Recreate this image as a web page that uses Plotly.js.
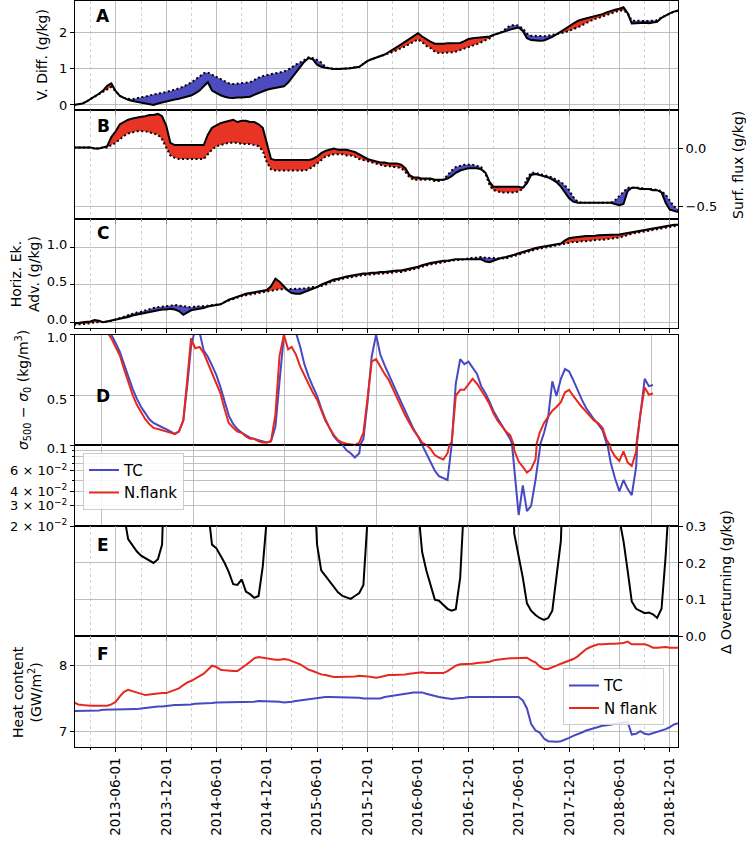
<!DOCTYPE html>
<html><head><meta charset="utf-8">
<script src="https://cdn.plot.ly/plotly-3.0.1.min.js"></script>
<style>html,body{margin:0;padding:0;background:#fff}#chart{width:746px;height:845px}</style>
</head><body><div id="chart"></div>
<script>
// time grid: 1st and 16th of each month, 2013-01-01 .. 2019-01-01
const dates = [];
for (let y = 2013; y <= 2018; y++) for (let m = 1; m <= 12; m++) {
  const mm = String(m).padStart(2, '0');
  dates.push(y + '-' + mm + '-01', y + '-' + mm + '-16');
}
dates.push('2019-01-01');

// Panel A: vertical diffusion (solid) vs reference (dotted)
const A_solid = [0.00,0.01,0.04,0.10,0.16,0.22,0.31,0.40,0.53,0.60,
 0.38,0.25,0.19,0.14,0.11,0.09,0.07,0.05,0.03,0.00,
 0.04,0.07,0.10,0.13,0.15,0.17,0.20,0.23,0.26,0.32,
 0.40,0.52,0.63,0.40,0.32,0.27,0.23,0.20,0.19,0.21,
 0.21,0.22,0.23,0.28,0.33,0.38,0.42,0.45,0.47,0.49,
 0.52,0.62,0.75,0.92,1.08,1.20,1.30,1.27,1.12,1.06,
 1.03,1.01,1.00,1.00,1.00,1.01,1.02,1.04,1.06,1.14,
 1.22,1.27,1.31,1.35,1.40,1.47,1.53,1.60,1.68,1.76,
 1.84,1.91,1.99,1.90,1.82,1.76,1.70,1.69,1.70,1.71,
 1.71,1.71,1.72,1.77,1.83,1.85,1.86,1.87,1.88,1.90,
 1.94,1.98,2.01,2.05,2.09,2.12,2.15,2.05,1.85,1.80,
 1.78,1.78,1.79,1.83,1.89,1.96,2.03,2.11,2.18,2.26,
 2.33,2.37,2.40,2.43,2.46,2.48,2.52,2.57,2.61,2.64,
 2.67,2.71,2.55,2.26,2.27,2.28,2.28,2.27,2.30,2.31,
 2.42,2.49,2.54,2.59,2.62];
const A_dotted = [0.00,0.01,0.04,0.10,0.16,0.22,0.31,0.38,0.45,0.50,
 0.38,0.25,0.20,0.17,0.16,0.18,0.20,0.23,0.26,0.29,
 0.31,0.34,0.36,0.39,0.42,0.46,0.51,0.56,0.62,0.70,
 0.80,0.88,0.90,0.84,0.77,0.70,0.65,0.60,0.58,0.59,
 0.60,0.61,0.63,0.69,0.76,0.80,0.83,0.86,0.88,0.90,
 0.93,0.98,1.05,1.12,1.18,1.26,1.32,1.30,1.25,1.18,
 1.06,1.01,1.00,1.00,1.00,1.01,1.02,1.04,1.06,1.14,
 1.22,1.27,1.31,1.35,1.38,1.43,1.47,1.52,1.57,1.63,
 1.69,1.75,1.82,1.74,1.64,1.58,1.48,1.44,1.44,1.45,
 1.46,1.48,1.52,1.56,1.60,1.64,1.69,1.74,1.79,1.85,
 1.93,1.98,2.03,2.12,2.20,2.22,2.20,2.12,1.98,1.92,
 1.91,1.91,1.91,1.92,1.94,1.96,1.98,2.02,2.06,2.10,
 2.15,2.21,2.28,2.33,2.38,2.41,2.45,2.49,2.53,2.57,
 2.62,2.62,2.55,2.34,2.33,2.33,2.33,2.33,2.34,2.35,
 2.43,2.49,2.54,2.59,2.62];

// Panel B: surface flux
const B_solid = [0.01,0.01,0.01,0.01,0.01,0.00,0.00,0.01,0.02,0.10,
 0.15,0.21,0.23,0.25,0.26,0.27,0.275,0.28,0.29,0.29,
 0.30,0.28,0.20,0.05,0.03,0.03,0.03,0.03,0.03,0.03,
 0.03,0.03,0.12,0.18,0.20,0.22,0.23,0.24,0.25,0.23,
 0.24,0.24,0.23,0.23,0.21,0.18,0.05,-0.09,-0.10,-0.10,
 -0.10,-0.10,-0.10,-0.10,-0.10,-0.10,-0.10,-0.09,-0.07,-0.04,
 -0.02,-0.01,0.00,-0.01,-0.01,-0.01,-0.02,-0.03,-0.05,-0.07,
 -0.09,-0.10,-0.11,-0.12,-0.12,-0.13,-0.13,-0.13,-0.14,-0.17,
 -0.23,-0.25,-0.25,-0.26,-0.26,-0.26,-0.27,-0.27,-0.27,-0.26,
 -0.24,-0.21,-0.19,-0.18,-0.17,-0.17,-0.17,-0.18,-0.21,-0.29,
 -0.33,-0.33,-0.33,-0.33,-0.33,-0.33,-0.33,-0.34,-0.30,-0.23,
 -0.22,-0.23,-0.24,-0.25,-0.27,-0.29,-0.33,-0.38,-0.43,-0.46,
 -0.47,-0.47,-0.47,-0.47,-0.47,-0.47,-0.47,-0.47,-0.47,-0.48,
 -0.49,-0.48,-0.37,-0.34,-0.34,-0.35,-0.35,-0.35,-0.36,-0.36,
 -0.38,-0.47,-0.53,-0.54,-0.55];
const B_dotted = [0.01,0.01,0.01,0.01,0.01,0.00,0.00,0.01,0.01,0.03,
 0.05,0.08,0.11,0.13,0.14,0.15,0.15,0.15,0.14,0.13,
 0.12,0.08,0.01,-0.06,-0.08,-0.09,-0.09,-0.09,-0.09,-0.09,
 -0.09,-0.09,-0.05,-0.01,0.02,0.03,0.04,0.05,0.05,0.05,
 0.04,0.04,0.04,0.03,0.02,-0.02,-0.12,-0.18,-0.19,-0.19,
 -0.19,-0.19,-0.19,-0.19,-0.19,-0.19,-0.18,-0.16,-0.13,-0.10,
 -0.07,-0.06,-0.05,-0.05,-0.05,-0.06,-0.06,-0.07,-0.09,-0.10,
 -0.11,-0.12,-0.13,-0.14,-0.15,-0.15,-0.16,-0.16,-0.17,-0.20,
 -0.25,-0.27,-0.27,-0.27,-0.27,-0.27,-0.28,-0.28,-0.27,-0.23,
 -0.19,-0.16,-0.15,-0.14,-0.14,-0.14,-0.15,-0.16,-0.22,-0.32,
 -0.36,-0.37,-0.38,-0.38,-0.38,-0.38,-0.37,-0.35,-0.26,-0.21,
 -0.21,-0.22,-0.23,-0.24,-0.25,-0.27,-0.29,-0.32,-0.36,-0.42,
 -0.46,-0.47,-0.47,-0.47,-0.47,-0.47,-0.47,-0.47,-0.47,-0.45,
 -0.41,-0.37,-0.34,-0.34,-0.34,-0.34,-0.35,-0.35,-0.35,-0.36,
 -0.37,-0.40,-0.45,-0.50,-0.53];

// Panel C: horizontal Ekman advection
const C_solid = [-0.01,-0.01,0.00,0.00,0.01,0.03,0.02,0.00,0.01,0.02,
 0.03,0.04,0.05,0.07,0.09,0.10,0.11,0.12,0.14,0.15,
 0.16,0.17,0.17,0.18,0.17,0.15,0.10,0.13,0.16,0.17,
 0.18,0.19,0.21,0.22,0.23,0.24,0.27,0.30,0.32,0.34,
 0.36,0.38,0.39,0.40,0.41,0.42,0.43,0.48,0.58,0.54,
 0.48,0.42,0.39,0.38,0.38,0.40,0.42,0.45,0.47,0.50,
 0.52,0.55,0.57,0.58,0.60,0.61,0.62,0.63,0.64,0.65,
 0.65,0.66,0.66,0.67,0.67,0.68,0.68,0.69,0.69,0.70,
 0.71,0.72,0.74,0.76,0.78,0.79,0.80,0.81,0.82,0.82,
 0.83,0.84,0.84,0.84,0.85,0.85,0.85,0.84,0.81,0.80,
 0.82,0.84,0.86,0.87,0.89,0.90,0.92,0.94,0.96,0.97,
 0.99,1.00,1.01,1.02,1.03,1.04,1.05,1.09,1.12,1.13,
 1.14,1.14,1.15,1.15,1.15,1.16,1.16,1.16,1.17,1.17,
 1.17,1.18,1.19,1.20,1.21,1.22,1.23,1.24,1.25,1.26,
 1.27,1.28,1.29,1.30,1.30];
const C_dotted = [-0.03,-0.03,-0.02,-0.02,-0.01,0.00,0.00,0.00,0.01,0.02,
 0.04,0.06,0.08,0.10,0.12,0.13,0.14,0.16,0.17,0.19,
 0.20,0.21,0.22,0.22,0.23,0.22,0.21,0.20,0.20,0.21,
 0.21,0.22,0.22,0.23,0.23,0.24,0.27,0.29,0.31,0.33,
 0.35,0.36,0.37,0.38,0.39,0.40,0.41,0.42,0.43,0.44,
 0.44,0.44,0.44,0.44,0.44,0.45,0.46,0.47,0.47,0.48,
 0.50,0.53,0.55,0.56,0.58,0.59,0.60,0.61,0.62,0.63,
 0.63,0.64,0.64,0.65,0.65,0.66,0.66,0.67,0.67,0.68,
 0.69,0.70,0.72,0.74,0.76,0.77,0.78,0.79,0.80,0.81,
 0.82,0.83,0.83,0.84,0.85,0.86,0.86,0.87,0.86,0.86,
 0.85,0.85,0.85,0.85,0.87,0.88,0.90,0.92,0.94,0.95,
 0.97,0.98,0.99,1.00,1.01,1.02,1.03,1.04,1.06,1.07,
 1.07,1.08,1.08,1.09,1.09,1.10,1.10,1.11,1.11,1.12,
 1.13,1.14,1.16,1.18,1.19,1.20,1.21,1.22,1.23,1.24,
 1.25,1.26,1.27,1.28,1.29];

// Panel D: sigma500 - sigma0
const D_TC = [null,null,null,null,null,null,null,1.1,1.05,1.0,
 0.93,0.86,0.76,0.66,0.56,0.48,0.41,0.36,0.31,0.28,
 0.26,0.245,0.23,0.21,0.19,0.21,0.30,0.60,0.90,1.05,
 1.02,0.87,0.82,0.75,0.67,0.57,0.45,0.34,0.27,0.23,
 0.20,0.18,0.16,0.15,0.14,0.13,0.12,0.13,0.25,0.62,
 1.0,1.1,1.1,1.02,0.90,0.76,0.66,0.58,0.50,0.40,
 0.31,0.24,0.17,0.13,0.10,0.09,0.085,0.078,0.085,0.15,
 0.45,0.82,1.0,0.84,0.75,0.67,0.60,0.53,0.45,0.38,
 0.30,0.23,0.17,0.10,0.085,0.071,0.060,0.054,0.052,0.050,
 0.10,0.60,0.80,0.76,0.78,0.73,0.68,0.58,0.52,0.45,
 0.38,0.32,0.26,0.20,0.15,0.06,0.025,0.045,0.027,0.030,
 0.050,0.09,0.20,0.33,0.62,0.50,0.64,0.72,0.70,0.63,
 0.54,0.47,0.40,0.35,0.31,0.27,0.22,0.11,0.070,0.052,
 0.040,0.050,0.042,0.037,0.065,0.35,0.64,0.58,0.59,null,
 null,null,null,null,null];
const D_NF = [null,null,null,null,null,null,null,1.1,1.02,0.97,
 0.90,0.83,0.72,0.62,0.51,0.43,0.37,0.31,0.27,0.24,
 0.23,0.22,0.21,0.20,0.19,0.21,0.30,0.65,0.97,0.89,
 0.90,0.85,0.77,0.69,0.61,0.52,0.39,0.28,0.24,0.21,
 0.20,0.17,0.15,0.15,0.13,0.12,0.12,0.13,0.35,0.83,
 1.0,0.88,0.90,0.84,0.74,0.67,0.59,0.53,0.47,0.38,
 0.30,0.24,0.18,0.14,0.12,0.11,0.105,0.10,0.12,0.20,
 0.48,0.78,0.80,0.74,0.68,0.63,0.56,0.48,0.41,0.34,
 0.28,0.22,0.17,0.12,0.10,0.093,0.082,0.078,0.075,0.085,
 0.12,0.50,0.55,0.55,0.60,0.64,0.60,0.55,0.49,0.43,
 0.36,0.30,0.25,0.21,0.18,0.09,0.072,0.065,0.058,0.062,
 0.075,0.20,0.28,0.33,0.38,0.41,0.45,0.53,0.55,0.50,
 0.45,0.41,0.37,0.33,0.30,0.28,0.24,0.14,0.092,0.080,
 0.073,0.088,0.071,0.066,0.088,0.35,0.57,0.51,0.52,null,
 null,null,null,null,null];

// Panel E: delta overturning (values above 0.3 leave the axis)
const E_over = [0.6,0.6,0.6,0.6,0.6,0.6,0.6,0.6,0.6,0.6,
 0.6,0.6,0.33,0.265,0.248,0.232,0.22,0.213,0.206,0.20,
 0.21,0.25,0.6,0.6,0.6,0.6,0.6,0.6,0.6,0.6,
 0.6,0.6,0.35,0.25,0.24,0.22,0.20,0.175,0.142,0.14,
 0.155,0.122,0.115,0.105,0.11,0.19,0.35,0.6,0.6,0.6,
 0.6,0.6,0.6,0.6,0.6,0.6,0.6,0.5,0.25,0.18,
 0.165,0.15,0.135,0.12,0.11,0.105,0.102,0.11,0.118,0.14,
 0.32,0.6,0.6,0.6,0.6,0.6,0.6,0.6,0.6,0.6,
 0.6,0.6,0.35,0.23,0.18,0.14,0.10,0.097,0.085,0.075,
 0.07,0.074,0.16,0.6,0.6,0.6,0.6,0.6,0.6,0.6,
 0.6,0.6,0.6,0.6,0.6,0.28,0.22,0.16,0.09,0.07,
 0.058,0.05,0.045,0.05,0.07,0.16,0.26,0.6,0.6,0.6,
 0.6,0.6,0.6,0.6,0.6,0.6,0.6,0.6,0.6,0.6,
 0.32,0.26,0.18,0.095,0.075,0.07,0.063,0.065,0.06,0.05,
 0.075,0.22,0.6,0.6,0.6];

// Panel F: heat content
const F_TC = [7.31,7.31,7.31,7.32,7.32,7.32,7.32,7.33,7.33,7.33,
 7.33,7.33,7.33,7.34,7.34,7.34,7.35,7.36,7.36,7.37,
 7.38,7.38,7.39,7.39,7.40,7.40,7.40,7.41,7.41,7.42,
 7.42,7.42,7.43,7.43,7.44,7.44,7.44,7.44,7.44,7.45,
 7.45,7.45,7.45,7.45,7.46,7.46,7.46,7.46,7.46,7.45,
 7.44,7.44,7.45,7.46,7.47,7.48,7.49,7.49,7.50,7.51,
 7.52,7.52,7.52,7.52,7.52,7.52,7.51,7.51,7.51,7.50,
 7.50,7.50,7.49,7.50,7.52,7.53,7.55,7.56,7.57,7.57,
 7.58,7.59,7.59,7.59,7.57,7.55,7.54,7.52,7.51,7.50,
 7.49,7.50,7.50,7.51,7.52,7.52,7.53,7.53,7.53,7.53,
 7.53,7.53,7.53,7.53,7.53,7.52,7.52,7.47,7.35,7.12,
 7.02,6.99,6.90,6.86,6.85,6.85,6.86,6.88,6.91,6.94,
 6.96,6.99,7.02,7.04,7.06,7.07,7.09,7.10,7.11,7.12,
 7.13,7.14,7.15,6.96,6.97,7.01,6.97,6.96,6.98,7.00,
 7.01,7.04,7.07,7.11,7.13];
const F_NF = [7.44,7.41,7.40,7.39,7.39,7.39,7.39,7.38,7.39,7.41,
 7.45,7.53,7.60,7.63,7.61,7.58,7.56,7.55,7.56,7.57,
 7.57,7.58,7.58,7.60,7.62,7.65,7.70,7.74,7.76,7.80,
 7.84,7.87,7.93,7.99,7.97,7.93,7.92,7.91,7.91,7.91,
 7.95,8.00,8.05,8.10,8.12,8.11,8.09,8.08,8.08,8.08,
 8.09,8.08,8.06,8.04,8.01,7.97,7.93,7.91,7.88,7.86,
 7.85,7.83,7.82,7.82,7.82,7.83,7.83,7.83,7.84,7.84,
 7.83,7.82,7.81,7.82,7.84,7.85,7.85,7.85,7.86,7.86,
 7.87,7.88,7.89,7.89,7.88,7.88,7.88,7.88,7.88,7.91,
 7.95,7.99,8.01,8.01,8.02,8.02,8.03,8.03,8.04,8.05,
 8.07,8.08,8.09,8.10,8.10,8.10,8.10,8.10,8.11,8.07,
 8.04,7.98,7.94,7.94,7.96,7.99,8.02,8.04,8.06,8.09,
 8.13,8.18,8.24,8.27,8.29,8.31,8.31,8.32,8.32,8.32,
 8.32,8.33,8.35,8.31,8.31,8.31,8.31,8.29,8.26,8.26,
 8.27,8.27,8.26,8.26,8.26];

const panelLetters = ['A','B','C','D','E','F'];
const dLabelTicks = [0.02,0.03,0.04,0.06];
const dLabelText = ['2 × 10<sup>−2</sup>','3 × 10<sup>−2</sup>','4 × 10<sup>−2</sup>','6 × 10<sup>−2</sup>'];
const dMinorTicks = [0.05,0.07,0.08,0.09];
const dateTickFormat = '%Y-%m-%d';

const RED = 'rgb(230,40,30)', BLUE = 'rgb(72,72,195)';
const RED_FILL = 'rgb(232,52,36)', BLUE_FILL = 'rgb(76,76,192)';
const FONT = 'DejaVu Sans';
const TICK_SIZE = 13;

function diffPanel(xa, ya, solid, dotted) {
  const hi = solid.map((v, i) => Math.max(v, dotted[i]));
  const lo = solid.map((v, i) => Math.min(v, dotted[i]));
  const base = {x: dates, xaxis: xa, yaxis: ya, mode: 'lines', showlegend: false, hoverinfo: 'skip'};
  return [
    Object.assign({}, base, {y: dotted, line: {width: 0}}),
    Object.assign({}, base, {y: hi, line: {width: 0}, fill: 'tonexty', fillcolor: RED_FILL}),
    Object.assign({}, base, {y: dotted, line: {width: 0}}),
    Object.assign({}, base, {y: lo, line: {width: 0}, fill: 'tonexty', fillcolor: BLUE_FILL}),
    Object.assign({}, base, {y: dotted, line: {color: 'black', width: 2, dash: '2px,2.5px'}}),
    Object.assign({}, base, {y: solid, line: {color: 'black', width: 2}})
  ];
}

const traces = [].concat(
  diffPanel('x', 'y', A_solid, A_dotted),
  diffPanel('x2', 'y2', B_solid, B_dotted),
  diffPanel('x3', 'y3', C_solid, C_dotted),
  [
    {x: dates, y: D_TC, xaxis: 'x4', yaxis: 'y4', mode: 'lines', name: 'TC', line: {color: BLUE, width: 2}, legend: 'legend'},
    {x: dates, y: D_NF, xaxis: 'x4', yaxis: 'y4', mode: 'lines', name: 'N.flank', line: {color: RED, width: 2}, legend: 'legend'},
    {x: dates, y: D_TC, xaxis: 'x5', yaxis: 'y5', mode: 'lines', showlegend: false, line: {color: BLUE, width: 2}},
    {x: dates, y: D_NF, xaxis: 'x5', yaxis: 'y5', mode: 'lines', showlegend: false, line: {color: RED, width: 2}},
    {x: dates, y: E_over, xaxis: 'x6', yaxis: 'y6', mode: 'lines', showlegend: false, line: {color: 'black', width: 2}},
    {x: dates, y: F_TC, xaxis: 'x7', yaxis: 'y7', mode: 'lines', name: 'TC', line: {color: BLUE, width: 2}, legend: 'legend2'},
    {x: dates, y: F_NF, xaxis: 'x7', yaxis: 'y7', mode: 'lines', name: 'N flank', line: {color: RED, width: 2}, legend: 'legend2'}
  ]
);

const xRange = ['2013-01-04 07:00', '2018-12-30 17:00'];
const GRID = '#b0b0b0';
function xStd(anchor, labels) {
  return {type: 'date', range: xRange, anchor: anchor, showline: true, mirror: true, linecolor: 'black', linewidth: 1,
    zeroline: false, tick0: '2013-06-01', dtick: 'M6', showgrid: true, gridcolor: GRID, gridwidth: 0.8,
    ticks: 'outside', ticklen: 4, tickcolor: 'black', showticklabels: labels,
    tickformat: dateTickFormat, tickangle: -90, tickfont: {family: FONT, size: 13.5, color: 'black'},
    minor: {tick0: '2013-03-01', dtick: 'M3', showgrid: true, gridcolor: '#c8c8c8', griddash: 'dot', gridwidth: 0.8,
      ticks: 'outside', ticklen: 2, tickcolor: 'black'}};
}
function xD(anchor) {
  return {type: 'date', range: xRange, anchor: anchor, showline: true, mirror: true, linecolor: 'black', linewidth: 1,
    zeroline: false, tick0: '2013-04-11', dtick: 332 * 86400000, showgrid: true, gridcolor: GRID, gridwidth: 0.8,
    ticks: '', showticklabels: false};
}
function yStd(anchor, domain, range, tickvals, fmt, side) {
  return {anchor: anchor, domain: domain, range: range, tickvals: tickvals, tickformat: fmt, side: side || 'left',
    showline: true, mirror: true, linecolor: 'black', linewidth: 1, zeroline: false, showgrid: true,
    gridcolor: GRID, gridwidth: 0.8, ticks: 'outside', ticklen: 4, tickcolor: 'black',
    tickfont: {family: FONT, size: TICK_SIZE, color: 'black'}};
}

const H = 746;
const py = p => 1 - (p - 1) / H;         // pixel row -> paper y
const px = p => (p - 75) / 603;          // pixel column -> paper x

const yLog = yStd('x5', [py(526.3), py(445)], [Math.log10(0.02), -1], dLabelTicks, '');
yLog.type = 'log';
yLog.ticktext = dLabelText;
delete yLog.tickformat;
yLog.minor = {tickmode: 'array', tickvals: dMinorTicks, showgrid: true, gridcolor: GRID, gridwidth: 0.8,
  ticks: 'outside', ticklen: 2, tickcolor: 'black'};

const yC = yStd('x3', [py(328.3), py(219)], [-0.08, 1.376], [0, 0.5, 1], '.1f');
yC.ticklabelshift = -3;
const yDup = yStd('x4', [py(445), py(334.7)], [0.1, 1.0], [0.1, 0.5, 1.0], '.1f');
yDup.ticklabelshift = 3;

const layout = {
  width: 746, height: 845,
  margin: {l: 75, r: 68, t: 1, b: 98},
  paper_bgcolor: 'white', plot_bgcolor: 'white',
  font: {family: FONT, size: 14, color: 'black'},
  showlegend: true,
  xaxis: xStd('y', false), xaxis2: xStd('y2', false), xaxis3: xStd('y3', false),
  xaxis4: xD('y4'), xaxis5: xD('y5'),
  xaxis6: xStd('y6', false), xaxis7: xStd('y7', true),
  yaxis: yStd('x', [py(110), 1], [-0.14, 2.885], [0, 1, 2], 'd'),
  yaxis2: yStd('x2', [py(219), py(110)], [-0.61, 0.334], [-0.5, 0], '.1f', 'right'),
  yaxis3: yC,
  yaxis4: yDup,
  yaxis5: yLog,
  yaxis6: yStd('x6', [py(636.3), py(526.3)], [0, 0.3], [0, 0.1, 0.2, 0.3], '.1f', 'right'),
  yaxis7: yStd('x7', [0, py(636.3)], [6.773, 8.43], [7, 8], 'd'),
  legend: {x: px(83), y: py(452.7), xanchor: 'left', yanchor: 'top', traceorder: 'normal', bgcolor: 'rgba(255,255,255,0.85)',
    bordercolor: '#cccccc', borderwidth: 1, font: {family: FONT, size: 15, color: 'black'}},
  legend2: {x: px(563), y: py(668.3), xanchor: 'left', yanchor: 'top', traceorder: 'normal', bgcolor: 'rgba(255,255,255,0.85)',
    bordercolor: '#cccccc', borderwidth: 1, font: {family: FONT, size: 15, color: 'black'}},
  annotations: []
};

const letterY = [16, 126, 233, 396, 545, 653.5];
panelLetters.forEach((L, i) => layout.annotations.push({
  text: '<b>' + L + '</b>', xref: 'paper', yref: 'paper', x: px(103), y: py(letterY[i]),
  xanchor: 'center', yanchor: 'middle', showarrow: false, font: {family: FONT, size: 17, color: 'black'}
}));

const titles = [
  {text: 'V. Diff. (g/kg)', x: 42, y: 55.5},
  {text: 'Surf. flux (g/kg)', x: 738, y: 165},
  {text: 'Horiz. Ek.<br>Adv. (g/kg)', x: 25, y: 274},
  {text: '<i>σ</i><sub>500</sub> − <i>σ</i><sub>0</sub> (kg/m<sup>3</sup>)', x: 23, y: 390},
  {text: 'Δ Overturning (g/kg)', x: 726, y: 582},
  {text: 'Heat content<br>(GW/m<sup>2</sup>)', x: 27, y: 692}
];
titles.forEach(t => layout.annotations.push({
  text: t.text, xref: 'paper', yref: 'paper', x: px(t.x), y: py(t.y), textangle: -90,
  xanchor: 'center', yanchor: 'middle', showarrow: false, font: {family: FONT, size: 14, color: 'black'}
}));

Plotly.newPlot('chart', traces, layout, {displayModeBar: false, staticPlot: true});
</script></body></html>
